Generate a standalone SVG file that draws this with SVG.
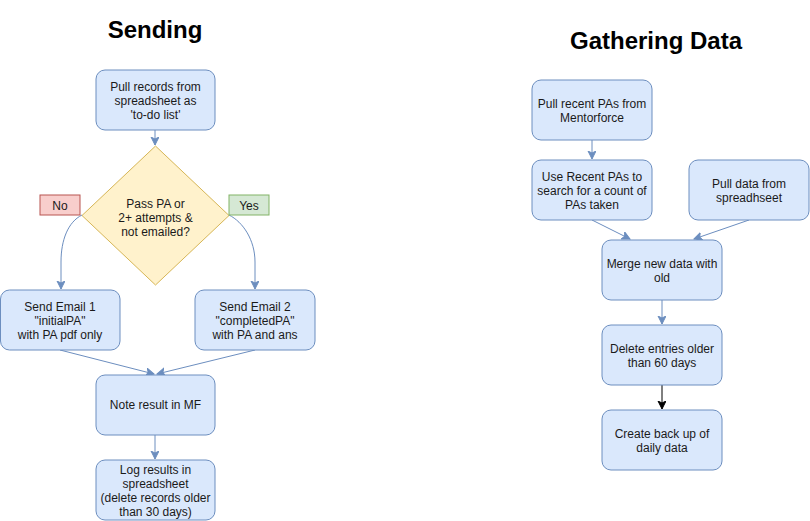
<svg xmlns="http://www.w3.org/2000/svg" width="810" height="521" viewBox="0 0 810 521">
<style>
.box{fill:#dae8fc;stroke:#6c8ebf;stroke-width:1}
.dia{fill:#fff2cc;stroke:#d6b656;stroke-width:1}
.no{fill:#f8cecc;stroke:#b85450;stroke-width:1}
.yes{fill:#d5e8d4;stroke:#82b366;stroke-width:1}
text{font-family:"Liberation Sans",Arial,sans-serif;font-size:12px;fill:#1a1a1a;text-anchor:middle}
.title{font-size:24px;font-weight:bold;fill:#000}
.edge{fill:none;stroke:#6c8ebf;stroke-width:1}
.edgek{fill:none;stroke:#000;stroke-width:1}
</style>
<defs>
<marker id="ab" markerWidth="10" markerHeight="10" refX="8" refY="4" orient="auto" markerUnits="userSpaceOnUse">
<path d="M0,0 L8,4 L0,8 L2,4 Z" fill="#6c8ebf" stroke="#6c8ebf"/>
</marker>
<marker id="ak" markerWidth="10" markerHeight="10" refX="8" refY="4" orient="auto" markerUnits="userSpaceOnUse">
<path d="M0,0 L8,4 L0,8 L2,4 Z" fill="#000" stroke="#000"/>
</marker>
</defs>
<rect width="810" height="521" fill="#fff"/>
<text class="title" x="155" y="38">Sending</text>
<text class="title" x="656" y="49">Gathering Data</text>
<g id="connectors">
<path class="edge" d="M155,130 L155,145" marker-end="url(#ab)"/>
<path class="edge" d="M82,215 C68,222 61,240 61,262 L61,289" marker-end="url(#ab)"/>
<path class="edge" d="M229,215 C243,222 255,240 255,262 L255,289" marker-end="url(#ab)"/>
<path class="edge" d="M60,350 L154,374" marker-end="url(#ab)"/>
<path class="edge" d="M255,350 L157,374" marker-end="url(#ab)"/>
<path class="edge" d="M155,435 L155,459" marker-end="url(#ab)"/>
<path class="edge" d="M592,140 L592,159" marker-end="url(#ab)"/>
<path class="edge" d="M592,220 L630,239" marker-end="url(#ab)"/>
<path class="edge" d="M749,220 L694,239" marker-end="url(#ab)"/>
<path class="edge" d="M662,300 L662,324" marker-end="url(#ab)"/>
<path class="edgek" d="M662,385 L662,409" marker-end="url(#ak)"/>
</g>
<g id="pull-records">
<rect class="box" x="96" y="70" width="119" height="60" rx="9"/>
<text x="155.5" y="91">Pull records from</text>
<text x="155.5" y="105">spreadsheet as</text>
<text x="155.5" y="119">'to-do list'</text>
</g>
<g id="decision">
<path class="dia" d="M155.5,146 L229,215.5 L155.5,285 L82,215.5 Z"/>
<text x="155.5" y="208">Pass PA or</text>
<text x="155.5" y="222">2+ attempts &amp;</text>
<text x="155.5" y="236">not emailed?</text>
</g>
<g id="label-no">
<rect class="no" x="40" y="195" width="40" height="20"/>
<text x="60" y="209.5">No</text>
</g>
<g id="label-yes">
<rect class="yes" x="229" y="195" width="40" height="20"/>
<text x="249" y="209.5">Yes</text>
</g>
<g id="email1">
<rect class="box" x="0.5" y="290" width="119.5" height="60" rx="9"/>
<text x="60" y="311">Send Email 1</text>
<text x="60" y="325">"initialPA"</text>
<text x="60" y="339">with PA pdf only</text>
</g>
<g id="email2">
<rect class="box" x="195" y="290" width="120" height="60" rx="9"/>
<text x="255" y="311">Send Email 2</text>
<text x="255" y="325">"completedPA"</text>
<text x="255" y="339">with PA and ans</text>
</g>
<g id="note-result">
<rect class="box" x="96" y="375" width="119" height="60" rx="9"/>
<text x="155.5" y="409">Note result in MF</text>
</g>
<g id="log-results">
<rect class="box" x="96" y="460" width="119" height="60" rx="9"/>
<text x="155.5" y="474">Log results in</text>
<text x="155.5" y="488">spreadsheet</text>
<text x="155.5" y="502">(delete records older</text>
<text x="155.5" y="516">than 30 days)</text>
</g>
<g id="pull-recent">
<rect class="box" x="532" y="80" width="120" height="60" rx="9"/>
<text x="592" y="108">Pull recent PAs from</text>
<text x="592" y="122">Mentorforce</text>
</g>
<g id="use-recent">
<rect class="box" x="532" y="160" width="120" height="60" rx="9"/>
<text x="592" y="181">Use Recent PAs to</text>
<text x="592" y="195">search for a count of</text>
<text x="592" y="209">PAs taken</text>
</g>
<g id="pull-data">
<rect class="box" x="689" y="160" width="120" height="60" rx="9"/>
<text x="749" y="188">Pull data from</text>
<text x="749" y="202">spreadhseet</text>
</g>
<g id="merge">
<rect class="box" x="602" y="240" width="120" height="60" rx="9"/>
<text x="662" y="268">Merge new data with</text>
<text x="662" y="282">old</text>
</g>
<g id="delete">
<rect class="box" x="602" y="325" width="120" height="60" rx="9"/>
<text x="662" y="353">Delete entries older</text>
<text x="662" y="367">than 60 days</text>
</g>
<g id="backup">
<rect class="box" x="602" y="410" width="120" height="60" rx="9"/>
<text x="662" y="438">Create back up of</text>
<text x="662" y="452">daily data</text>
</g>
</svg>
